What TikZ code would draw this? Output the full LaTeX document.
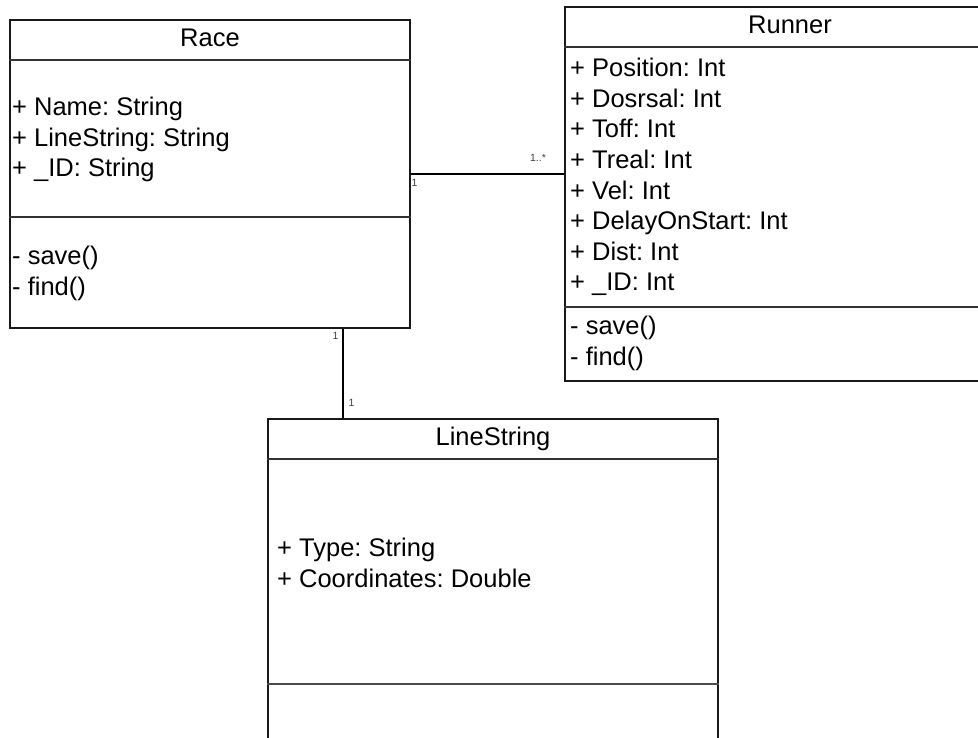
\documentclass[tikz,border=0pt]{standalone}
\usepackage{fontspec}
\setmainfont{Liberation Sans}
\frenchspacing
\begin{document}
\begin{tikzpicture}[x=1pt,y=-1pt,
  classbox/.style={draw=black!90,line width=1.6pt,rectangle,inner sep=0pt,fill=none},
  divider/.style={draw=black!80,line width=1.6pt},
  member/.style={anchor=base west,inner sep=0pt,font=\fontsize{25.5}{30}\selectfont\frenchspacing,text=black},
  title/.style={anchor=base,inner sep=0pt,font=\fontsize{25.5}{30}\selectfont,text=black},
  mult/.style={inner sep=0pt,font=\fontsize{10.5}{12}\selectfont,text=black!75},
  assoc/.style={draw=black,line width=1.2pt}]
\useasboundingbox (0,0) rectangle (978,737);
\clip (0,0) rectangle (978,737);

% class boxes
\node[classbox,minimum width=400pt,minimum height=308pt] (race) at (210,174) {};
\node[classbox,minimum width=440pt,minimum height=374pt] (runner) at (785,194) {};
\node[classbox,minimum width=450pt,minimum height=341pt] (ls) at (493,589.5) {};

% compartment dividers
\draw[divider] ([yshift=-41pt]race.north west) -- ([yshift=-41pt]race.north east);
\draw[divider] ([yshift=-198pt]race.north west) -- ([yshift=-198pt]race.north east);
\draw[divider] ([yshift=-41pt]runner.north west) -- ([yshift=-41pt]runner.north east);
\draw[divider] ([yshift=-301pt]runner.north west) -- ([yshift=-301pt]runner.north east);
\draw[divider] ([yshift=-41pt]ls.north west) -- ([yshift=-41pt]ls.north east);
\draw[divider,draw=black!70] ([yshift=-266pt]ls.north west) -- ([yshift=-266pt]ls.north east);

% class names
\node[title] (race-name) at (210,46.5) {Race};
\node[title] (runner-name) at (790,33.5) {Runner};
\node[title] (ls-name) at (493,445.5) {LineString};

% Race members
\node[member] (race-a1) at (12,115.5) {+ Name: String};
\node[member] (race-a2) at (12,146) {+ LineString: String};
\node[member] (race-a3) at (12,176.5) {+ \_ID: String};
\node[member] (race-m1) at (12,264.5) {- save()};
\node[member] (race-m2) at (12,295.5) {- find()};

% Runner members
\foreach \t [count=\i] in {+ Position: Int,+ Dosrsal: Int,+ Toff: Int,+ Treal: Int,+ Vel: Int,+ DelayOnStart: Int,+ Dist: Int,+ \_ID: Int}
  \node[member] (runner-a\i) at (570,{76.7+30.6*(\i-1)}) {\t};
\node[member] (runner-m1) at (570,334.5) {- save()};
\node[member] (runner-m2) at (570,365) {- find()};

% LineString members
\node[member] (ls-a1) at (277,556.5) {+ Type: String};
\node[member] (ls-a2) at (277,587) {+ Coordinates: Double};

% associations
\draw[assoc,line width=1.2pt] (race.east) -- (race.east -| runner.west);
\coordinate (race-ls) at ([xshift=334pt]race.south west);
\draw[assoc,line width=2.2pt] (race-ls) -- (race-ls |- ls.north);

% multiplicities
\node[mult] (m-run) at (538,158) {1..*};
\node[mult] (m-race1) at (414.5,183) {1};
\node[mult] (m-race2) at (335.5,335.5) {1};
\node[mult] (m-ls) at (351.5,402.5) {1};
\end{tikzpicture}
\end{document}
